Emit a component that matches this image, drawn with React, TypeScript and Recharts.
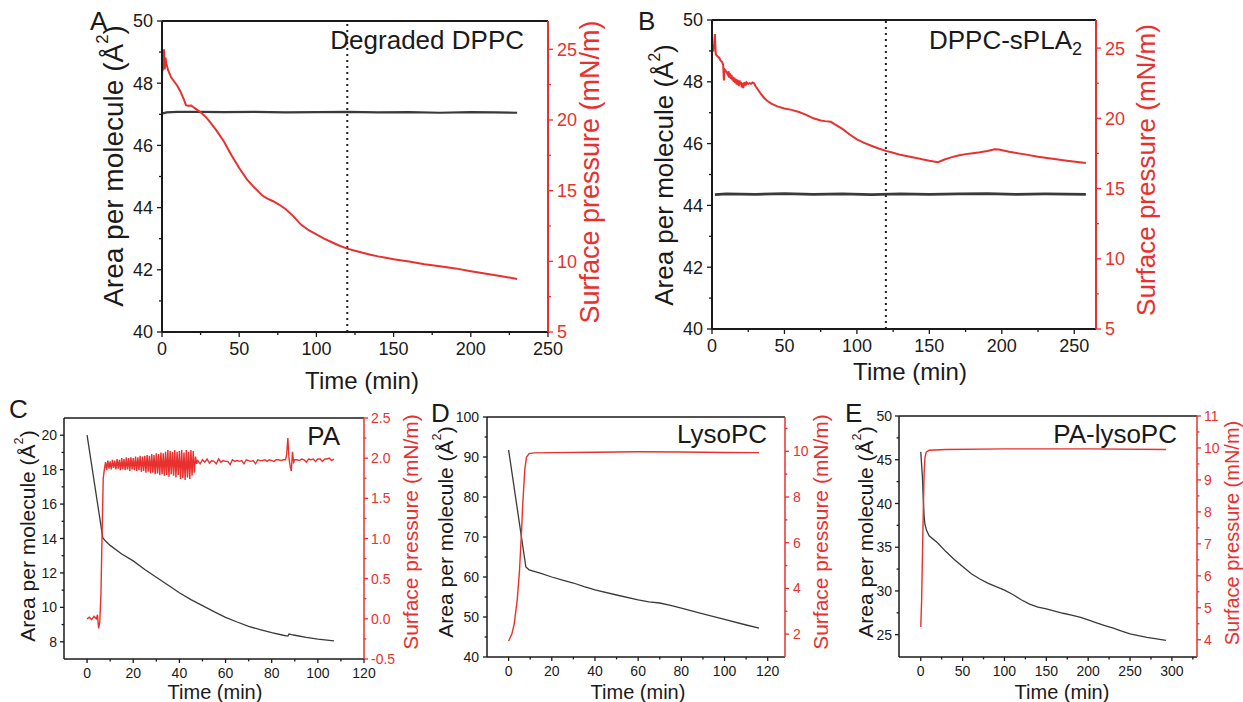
import React from 'react';
import { LineChart, Line, XAxis, YAxis, ReferenceLine } from 'recharts';

const FONT = '"Liberation Sans", Arial, Helvetica, sans-serif';
const RED = '#e8312f';
const INK = '#1a1a1a';
const GRAY = '#3a3a3a';

// [time (min), value] pairs

// A: degraded DPPC
const aArea = [[0.5, 47.03], [3, 47.06], [10, 47.08], [25, 47.08], [40, 47.07], [60, 47.08], [80, 47.06], [100, 47.07], [120, 47.08], [140, 47.06], [160, 47.07], [180, 47.05], [200, 47.07], [215, 47.06], [230, 47.05]];
const aPressure = [[0, 22.8], [0.4, 24.5], [0.8, 23.5], [1.3, 25.0], [1.8, 23.6], [2.3, 24.4], [2.8, 24.0], [4, 23.5], [6, 23.0], [8, 22.7], [10, 22.4], [12, 22.0], [14, 21.5], [15.5, 21.05], [17, 21.0], [19, 21.02], [21, 20.85], [23, 20.7], [25, 20.55], [28, 20.25], [30, 20.0], [35, 19.3], [40, 18.5], [45, 17.5], [50, 16.6], [55, 15.8], [60, 15.2], [65, 14.65], [68, 14.45], [72, 14.25], [76, 14.0], [80, 13.7], [85, 13.2], [90, 12.6], [95, 12.2], [100, 11.9], [105, 11.6], [110, 11.35], [115, 11.1], [120, 10.9], [125, 10.75], [130, 10.6], [135, 10.47], [140, 10.35], [145, 10.25], [150, 10.15], [160, 9.98], [170, 9.8], [180, 9.65], [190, 9.5], [200, 9.3], [210, 9.12], [220, 8.95], [230, 8.75]];

// B: DPPC-sPLA2
const bArea = [[2, 44.35], [10, 44.37], [30, 44.36], [50, 44.38], [70, 44.36], [90, 44.37], [110, 44.35], [130, 44.37], [150, 44.36], [170, 44.37], [190, 44.38], [210, 44.36], [230, 44.37], [258, 44.36]];
const bPressure = [[0, 24.9], [0.5, 25.0], [1, 24.9], [1.5, 25.3], [2, 26.0], [2.3, 25.2], [2.6, 24.6], [3, 24.5], [4, 24.4], [5, 24.3], [6, 24.1], [7, 24.0], [7.7, 23.8], [8.2, 22.7], [8.6, 23.5], [9.3, 23.4], [10, 23.3], [11, 23.1], [11.5, 23.35], [12, 22.9], [12.5, 23.2], [13, 22.8], [13.5, 23.1], [14, 22.7], [14.5, 22.95], [15, 22.6], [15.5, 22.9], [16, 22.5], [16.5, 22.8], [17, 22.4], [17.5, 22.75], [18, 22.55], [18.5, 22.3], [19, 22.7], [19.5, 22.4], [20, 22.6], [20.5, 22.2], [21, 22.5], [21.5, 22.15], [22, 22.55], [22.5, 22.3], [23, 22.6], [23.5, 22.35], [24, 22.55], [25, 22.45], [26, 22.5], [27, 22.45], [28, 22.55], [29, 22.5], [30, 22.3], [32, 22.0], [34, 21.7], [36, 21.45], [38, 21.25], [41, 21.05], [45, 20.85], [50, 20.7], [55, 20.6], [60, 20.45], [65, 20.25], [70, 20.0], [75, 19.85], [78, 19.8], [82, 19.75], [86, 19.5], [90, 19.25], [95, 18.85], [100, 18.5], [105, 18.25], [110, 18.05], [115, 17.85], [120, 17.68], [125, 17.55], [130, 17.4], [135, 17.3], [140, 17.2], [145, 17.08], [150, 16.98], [156, 16.88], [160, 17.05], [165, 17.22], [170, 17.35], [175, 17.45], [180, 17.52], [185, 17.58], [190, 17.68], [195, 17.8], [198, 17.78], [205, 17.62], [215, 17.45], [225, 17.27], [235, 17.12], [245, 16.98], [258, 16.82]];

// C: PA
const cArea = [[0, 20.0], [6.8, 14.05], [8, 13.85], [10, 13.6], [15, 13.1], [20, 12.7], [25, 12.2], [30, 11.75], [35, 11.3], [40, 10.85], [45, 10.45], [50, 10.1], [55, 9.75], [60, 9.42], [65, 9.15], [70, 8.9], [75, 8.7], [80, 8.53], [85, 8.38], [87, 8.33], [87.5, 8.45], [88.5, 8.42], [90, 8.38], [95, 8.25], [100, 8.15], [107, 8.05]];
const cPressure = [[0, 0.0], [1, 0.02], [2, -0.01], [3, 0.03], [4, 0.0], [4.5, 0.05], [5, -0.12], [5.5, -0.04], [6, 0.3], [6.5, 1.05], [7, 1.75], [7.5, 1.86],
  [8, 1.95], [8.5, 1.85], [9, 1.97], [9.5, 1.87], [10, 1.96], [10.5, 1.86], [11, 1.98], [11.5, 1.88], [12, 1.97], [12.5, 1.86], [13, 1.99], [13.5, 1.87], [14, 1.98], [14.5, 1.85], [15, 2.0], [15.5, 1.86], [16, 1.99], [16.5, 1.85], [17, 2.01], [17.5, 1.86], [18, 2.0], [18.5, 1.84], [19, 2.01], [19.5, 1.86], [20, 2.0], [20.5, 1.85], [21, 2.02], [21.5, 1.84], [22, 2.01], [22.5, 1.85], [23, 2.03], [23.5, 1.83], [24, 2.02], [24.5, 1.84], [25, 2.03], [25.5, 1.82], [26, 2.04], [26.5, 1.83], [27, 2.03], [27.5, 1.81], [28, 2.05], [28.5, 1.82], [29, 2.04], [29.5, 1.8], [30, 2.06], [30.5, 1.81], [31, 2.05], [31.5, 1.79], [32, 2.07], [32.5, 1.8], [33, 2.06], [33.5, 1.78], [34, 2.08], [34.5, 1.79], [35, 2.1], [35.5, 1.77], [36, 2.09], [36.5, 1.8], [37, 2.08], [37.5, 1.78], [38, 2.1], [38.5, 1.76], [39, 2.08], [39.5, 1.79], [40, 2.09], [40.5, 1.74], [41, 2.1], [41.5, 1.75], [42, 2.07], [42.5, 1.73], [43, 2.1], [43.5, 1.76], [44, 2.08], [44.5, 1.74], [45, 2.1], [45.5, 1.78], [46, 2.09], [46.5, 1.82], [47, 2.02], [47.5, 1.93],
  [48, 1.97], [49, 1.93], [50, 1.98], [51, 1.95], [52, 1.99], [53, 1.94], [54, 1.97], [55, 1.96], [56, 1.93], [57, 1.99], [58, 1.95], [59, 1.97], [60, 1.96], [61, 1.96], [62, 1.92], [63, 1.98], [64, 1.96], [65, 1.97], [66, 1.96], [67, 1.97], [68, 1.93], [69, 1.98], [70, 1.97], [71, 1.96], [72, 1.97], [73, 1.93], [74, 1.98], [75, 1.97], [76, 1.97], [77, 1.98], [78, 1.96], [79, 1.98], [80, 1.97], [81, 1.96], [82, 1.98], [83, 1.98], [84, 1.97], [85, 1.98], [86, 1.98], [86.5, 2.05], [87, 2.25], [87.5, 2.0], [88, 1.9], [88.5, 1.84], [89, 2.08], [89.5, 1.95], [90, 1.98], [91, 1.98], [92, 1.97], [93, 1.99], [94, 1.98], [95, 1.95], [96, 1.99], [97, 1.98], [98, 1.99], [99, 1.96], [100, 1.99], [101, 1.99], [102, 1.96], [103, 1.99], [104, 1.99], [105, 2.0], [106, 1.97], [107, 1.99]];

// D: LysoPC
const dArea = [[0, 91.8], [8, 62.5], [9.5, 61.8], [15, 60.9], [20, 60.0], [25, 59.2], [30, 58.5], [35, 57.6], [40, 56.8], [50, 55.5], [60, 54.3], [65, 53.8], [70, 53.5], [75, 52.9], [80, 52.2], [90, 50.8], [100, 49.4], [110, 48.0], [116, 47.2]];
const dPressure = [[0, 1.7], [1.5, 2.0], [2.6, 2.45], [4, 3.5], [5, 4.7], [6, 6.5], [6.5, 7.6], [7.5, 9.2], [8.3, 9.75], [9.5, 9.9], [12, 9.93], [20, 9.94], [40, 9.96], [60, 9.98], [80, 9.97], [100, 9.95], [116, 9.94]];

// E: PA-lysoPC
const eArea = [[0, 45.9], [2, 43.0], [3, 40.5], [4, 38.6], [5, 37.6], [7, 36.9], [10, 36.3], [20, 35.5], [30, 34.5], [40, 33.6], [50, 32.8], [60, 32.0], [70, 31.4], [80, 30.9], [90, 30.5], [100, 30.1], [110, 29.6], [120, 29.0], [130, 28.5], [140, 28.15], [150, 27.95], [160, 27.7], [170, 27.45], [180, 27.25], [190, 27.0], [200, 26.7], [210, 26.35], [220, 26.05], [230, 25.75], [240, 25.4], [250, 25.1], [260, 24.9], [270, 24.7], [280, 24.55], [293, 24.35]];
const ePressure = [[0, 4.4], [1, 5.2], [2, 6.6], [3, 8.0], [4, 9.2], [5, 9.7], [6.5, 9.87], [10, 9.93], [30, 9.95], [100, 9.97], [200, 9.97], [293, 9.95]];

// tick values
const timeMajors250 = [0, 50, 100, 150, 200, 250];
const timeMinors250 = [25, 75, 125, 175, 225];
const areaMajors40 = [40, 42, 44, 46, 48, 50];
const areaMinors40 = [41, 43, 45, 47, 49];
const presMajors5 = [5, 10, 15, 20, 25];
const presMinors5 = [7.5, 12.5, 17.5, 22.5];

const timeMajors120 = [0, 20, 40, 60, 80, 100, 120];
const timeMinors120 = [10, 30, 50, 70, 90, 110];
const cAreaMajors = [8, 10, 12, 14, 16, 18, 20];
const cAreaMinors = [9, 11, 13, 15, 17, 19];
const cPresMajors = [-0.5, 0, 0.5, 1, 1.5, 2, 2.5];
const cPresMinors = [-0.25, 0.25, 0.75, 1.25, 1.75, 2.25];

const dAreaMajors = [40, 50, 60, 70, 80, 90, 100];
const dAreaMinors = [45, 55, 65, 75, 85, 95];
const dPresMajors = [2, 4, 6, 8, 10];
const dPresMinors = [3, 5, 7, 9, 11];

const timeMajors300 = [0, 50, 100, 150, 200, 250, 300];
const timeMinors300 = [25, 75, 125, 175, 225, 275, 325];
const eAreaMajors = [25, 30, 35, 40, 45, 50];
const eAreaMinors = [27.5, 32.5, 37.5, 42.5, 47.5];
const ePresMajors = [4, 5, 6, 7, 8, 9, 10, 11];
const ePresMinors = [4.5, 5.5, 6.5, 7.5, 8.5, 9.5, 10.5];

const toPts = (s: number[][]) => s.map(([t, v]) => ({ t, v }));

type Side = 'left' | 'right' | 'bottom';

function makeTick(side: Side, majors: number[], color: string, size: number, len: number, gap: number, digits?: number) {
  return (p: any) => {
    const { x, y, payload } = p;
    const v = payload.value as number;
    const major = majors.includes(v);
    const l = major ? len : len * 0.6;
    const txt = digits === undefined ? String(v) : v.toFixed(digits);
    if (side === 'bottom') {
      return (
        <g>
          <line x1={x} x2={x} y1={y} y2={y + l} stroke={INK} strokeWidth={1.3} />
          {major && (
            <text x={x} y={y + gap} dy="0.36em" textAnchor="middle" fill={color} fontSize={size}>
              {txt}
            </text>
          )}
        </g>
      );
    }
    const dir = side === 'left' ? -1 : 1;
    return (
      <g>
        <line x1={x} x2={x + dir * l} y1={y} y2={y} stroke={color} strokeWidth={1.3} />
        {major && (
          <text x={x + dir * gap} y={y} dy="0.36em" textAnchor={side === 'left' ? 'end' : 'start'} fill={color} fontSize={size}>
            {txt}
          </text>
        )}
      </g>
    );
  };
}

const areaTitle = (s: number) => (
  <>
    Area per molecule (Å
    <tspan dy={-s * 0.4} fontSize={s * 0.6}>2</tspan>
    <tspan dy={s * 0.4}>)</tspan>
  </>
);

const vTitle = (x: number, y: number, size: number, color: string, body: React.ReactNode) => () => (
  <text x={x} y={y} transform={`rotate(-90 ${x} ${y})`} textAnchor="middle" dominantBaseline="central" fontSize={size} fill={color}>
    {body}
  </text>
);

const hTitle = (x: number, y: number, size: number) => () => (
  <text x={x} y={y} textAnchor="middle" dominantBaseline="central" fontSize={size} fill={INK}>
    Time (min)
  </text>
);

interface AxisCfg {
  domain: [number, number];
  majors: number[];
  minors: number[];
  digits?: number;
}

interface PanelCfg {
  box: [number, number, number, number];
  mTop: number;
  leftW: number;
  rightW: number;
  bottomH: number;
  x: AxisCfg;
  left: AxisCfg;
  right: AxisCfg;
  area: number[][];
  pressure: number[][];
  tickFont: number;
  tickLen: number;
  yGap: number;
  xGap: number;
  axisW: number;
  areaW: number;
  presW: number;
  leftTitle: [number, number, number];
  rightTitle: [number, number, number];
  bottomTitle: [number, number, number];
  letter: [string, number, number, number];
  inset: [number, number, number, React.ReactNode];
  marker?: number;
}

const sorted = (a: AxisCfg) => [...a.majors, ...a.minors].sort((p, q) => p - q);

function Panel({ c }: { c: PanelCfg }) {
  const [left, top, width, height] = c.box;
  return (
    <div style={{ position: 'absolute', left, top, width, height }}>
      <LineChart width={width} height={height} margin={{ top: c.mTop, right: 0, bottom: 0, left: 0 }}>
        <XAxis
          dataKey="t"
          type="number"
          domain={c.x.domain}
          ticks={sorted(c.x)}
          interval={0}
          allowDataOverflow
          tickLine={false}
          tickSize={0}
          tickMargin={0}
          height={c.bottomH}
          axisLine={{ stroke: INK, strokeWidth: c.axisW }}
          tick={makeTick('bottom', c.x.majors, INK, c.tickFont, c.tickLen, c.xGap)}
          label={{ content: hTitle(...c.bottomTitle) }}
        />
        <YAxis
          yAxisId="left"
          type="number"
          domain={c.left.domain}
          ticks={sorted(c.left)}
          interval={0}
          allowDataOverflow
          width={c.leftW}
          tickLine={false}
          tickSize={0}
          tickMargin={0}
          axisLine={{ stroke: INK, strokeWidth: c.axisW }}
          tick={makeTick('left', c.left.majors, INK, c.tickFont, c.tickLen, c.yGap, c.left.digits)}
          label={{ content: vTitle(c.leftTitle[0], c.leftTitle[1], c.leftTitle[2], INK, areaTitle(c.leftTitle[2])) }}
        />
        <YAxis
          yAxisId="right"
          orientation="right"
          type="number"
          domain={c.right.domain}
          ticks={sorted(c.right)}
          interval={0}
          allowDataOverflow
          width={c.rightW}
          tickLine={false}
          tickSize={0}
          tickMargin={0}
          axisLine={{ stroke: RED, strokeWidth: c.axisW }}
          tick={makeTick('right', c.right.majors, RED, c.tickFont, c.tickLen, c.yGap, c.right.digits)}
          label={{ content: vTitle(c.rightTitle[0], c.rightTitle[1], c.rightTitle[2], RED, 'Surface pressure (mN/m)') }}
        />
        <ReferenceLine yAxisId="left" y={c.left.domain[1]} stroke={INK} strokeWidth={c.axisW} />
        {c.marker !== undefined && (
          <ReferenceLine yAxisId="left" x={c.marker} stroke="#222" strokeWidth={2} strokeDasharray="2 4" />
        )}
        <Line yAxisId="left" data={toPts(c.area)} dataKey="v" type="linear" stroke={GRAY} strokeWidth={c.areaW} dot={false} isAnimationActive={false} />
        <Line yAxisId="right" data={toPts(c.pressure)} dataKey="v" type="linear" stroke={RED} strokeWidth={c.presW} dot={false} isAnimationActive={false} />
      </LineChart>
      <svg width={width} height={height} style={{ position: 'absolute', left: 0, top: 0, pointerEvents: 'none' }}>
        <text x={c.letter[1]} y={c.letter[2]} fontSize={c.letter[3]} fill={INK}>{c.letter[0]}</text>
        <text x={c.inset[0]} y={c.inset[1]} fontSize={c.inset[2]} textAnchor="end" fill={INK}>{c.inset[3]}</text>
      </svg>
    </div>
  );
}

const panels: PanelCfg[] = [
  {
    box: [0, 0, 640, 400], mTop: 21, leftW: 162, rightW: 92, bottomH: 68,
    x: { domain: [0, 250], majors: timeMajors250, minors: timeMinors250 },
    left: { domain: [40, 50], majors: areaMajors40, minors: areaMinors40 },
    right: { domain: [5, 27], majors: presMajors5, minors: presMinors5 },
    area: aArea, pressure: aPressure,
    tickFont: 18, tickLen: 5, yGap: 9, xGap: 17, axisW: 2, areaW: 2.2, presW: 2,
    leftTitle: [113, 166, 28], rightTitle: [590, 172, 27], bottomTitle: [362, 380, 24],
    letter: ['A', 90, 30, 26], inset: [524, 49, 26, 'Degraded DPPC'], marker: 120,
  },
  {
    box: [620, 0, 623, 400], mTop: 20, leftW: 92, rightW: 147, bottomH: 71,
    x: { domain: [0, 265], majors: timeMajors250, minors: timeMinors250 },
    left: { domain: [40, 50], majors: areaMajors40, minors: areaMinors40 },
    right: { domain: [5, 27], majors: presMajors5, minors: presMinors5 },
    area: bArea, pressure: bPressure,
    tickFont: 18, tickLen: 5, yGap: 9, xGap: 17, axisW: 2, areaW: 2.8, presW: 2,
    leftTitle: [44, 175, 26], rightTitle: [526, 170, 26], bottomTitle: [290, 371, 24],
    letter: ['B', 18, 30, 26], inset: [462, 49, 26, <>DPPC-sPLA<tspan dy={6} fontSize={18}>2</tspan></>], marker: 120,
  },
  {
    box: [0, 390, 432, 312], mTop: 28, leftW: 64, rightW: 68, bottomH: 43,
    x: { domain: [-10, 120], majors: timeMajors120, minors: timeMinors120 },
    left: { domain: [7, 21], majors: cAreaMajors, minors: cAreaMinors },
    right: { domain: [-0.5, 2.5], majors: cPresMajors, minors: cPresMinors, digits: 1 },
    area: cArea, pressure: cPressure,
    tickFont: 14, tickLen: 4, yGap: 7, xGap: 14, axisW: 1.5, areaW: 1.3, presW: 1.4,
    leftTitle: [27, 146, 21], rightTitle: [410, 142, 21], bottomTitle: [215, 302, 20],
    letter: ['C', 9, 28, 26], inset: [340, 55, 26, 'PA'],
  },
  {
    box: [420, 390, 420, 312], mTop: 27, leftW: 67, rightW: 55, bottomH: 45,
    x: { domain: [-10, 128], majors: timeMajors120, minors: timeMinors120 },
    left: { domain: [40, 100], majors: dAreaMajors, minors: dAreaMinors },
    right: { domain: [1, 11.5], majors: dPresMajors, minors: dPresMinors },
    area: dArea, pressure: dPressure,
    tickFont: 14, tickLen: 4, yGap: 8, xGap: 14, axisW: 1.5, areaW: 1.3, presW: 1.4,
    leftTitle: [25, 142, 21], rightTitle: [400, 142, 21], bottomTitle: [218, 302, 20],
    letter: ['D', 11, 32, 26], inset: [347, 53, 26, 'LysoPC'],
  },
  {
    box: [840, 390, 403, 312], mTop: 26, leftW: 59, rightW: 46, bottomH: 45,
    x: { domain: [-26, 330], majors: timeMajors300, minors: timeMinors300 },
    left: { domain: [22.45, 50], majors: eAreaMajors, minors: eAreaMinors },
    right: { domain: [3.46, 11], majors: ePresMajors, minors: ePresMinors },
    area: eArea, pressure: ePressure,
    tickFont: 14, tickLen: 4, yGap: 7, xGap: 14, axisW: 1.5, areaW: 1.3, presW: 1.4,
    leftTitle: [25, 142, 21], rightTitle: [392, 143, 20], bottomTitle: [222, 302, 20],
    letter: ['E', 5, 32, 26], inset: [337, 53, 26, 'PA-lysoPC'],
  },
];

export default function App() {
  return (
    <div style={{ position: 'absolute', left: 0, top: 0, width: 1243, height: 702, background: '#fff', fontFamily: FONT, overflow: 'hidden' }}>
      {panels.map((c, i) => (
        <Panel key={i} c={c} />
      ))}
    </div>
  );
}
